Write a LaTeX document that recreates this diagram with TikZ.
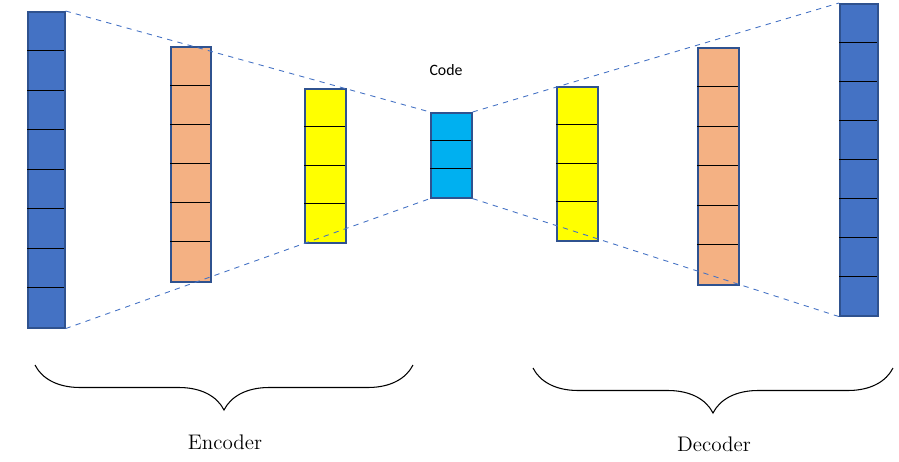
\documentclass[tikz,border=0pt]{standalone}
\usepackage{fontspec}
\newfontfamily\calib{Carlito}
\usetikzlibrary{decorations.pathreplacing}
\definecolor{cblue}{HTML}{4472C4}
\definecolor{cedge}{HTML}{2F528F}
\definecolor{corange}{HTML}{F4B183}
\definecolor{cyel}{HTML}{FFFF00}
\definecolor{ccode}{HTML}{00B0F0}
\begin{document}
\begin{tikzpicture}[x=0.02cm,y=-0.02cm,
  layer/.style={draw=cedge,line width=0.9pt,inner sep=0pt,minimum width=0.8cm},
  conn/.style={draw=cblue,dashed,line width=0.5pt},
  br/.style={decorate,decoration={brace,amplitude=0.9cm,mirror},line width=0.6pt}]
\useasboundingbox (0,0) rectangle (899,461);
\newcommand{\layerbox}[7]{% name,x1,y1,x2,y2,color,cells
  \node[layer,fill=#6,minimum width={(#4-#2)*0.02cm},minimum height={(#5-#3)*0.02cm},anchor=north west] (#1) at (#2,#3) {};
  \foreach \k in {1,...,\numexpr#7-1\relax}
    \draw[line width=0.5pt] (#2,{#3+(#5-#3)*\k/#7}) -- (#4,{#3+(#5-#3)*\k/#7});
}
\layerbox{lb}{27}{11}{64}{327}{cblue}{8}
\layerbox{lo}{170}{46}{210}{281}{corange}{6}
\layerbox{ly}{304}{88}{345}{242}{cyel}{4}
\layerbox{code}{430}{112}{471}{197}{ccode}{3}
\layerbox{ry}{556}{86}{597}{240}{cyel}{4}
\layerbox{ro}{697}{47}{738}{284}{corange}{6}
\layerbox{rb}{839}{3}{877}{315}{cblue}{8}
\draw[conn] (lb.north east) -- (code.north west);
\draw[conn] (lb.south east) -- (code.south west);
\draw[conn] (code.north east) -- (rb.north west);
\draw[conn] (code.south east) -- (rb.south west);
\node[font=\calib\small] (codelbl) at (446,70) {Code};
\coordinate (el) at (35,365); \coordinate (er) at (413,365);
\coordinate (dl) at (533,368); \coordinate (dr) at (893,368);
\draw[br] (el) -- (er);
\draw[br] (dl) -- (dr);
\node[font=\large] (enc) at (225,442) {Encoder};
\node[font=\large] (dec) at (714,444) {Decoder};
\end{tikzpicture}
\end{document}
